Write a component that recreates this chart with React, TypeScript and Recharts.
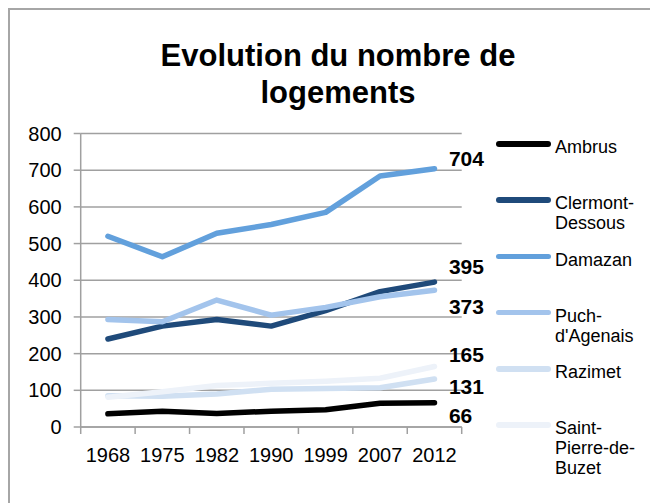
import React from "react";
import { LineChart, Line, XAxis, YAxis, CartesianGrid } from "recharts";

const years = ["1968", "1975", "1982", "1990", "1999", "2007", "2012"];
const yTicks = [0, 100, 200, 300, 400, 500, 600, 700, 800];

const ambrus = [36, 43, 37, 43, 47, 65, 66];
const clermont = [240, 275, 293, 275, 317, 369, 395];
const damazan = [520, 464, 528, 552, 585, 684, 704];
const puch = [293, 287, 346, 305, 326, 355, 373];
const razimet = [85, 84, 90, 103, 105, 107, 131];
const saintPierre = [81, 96, 113, 119, 125, 133, 165];

const seriesNames = ["Ambrus", "Clermont-Dessous", "Damazan", "Puch-d'Agenais", "Razimet", "Saint-Pierre-de-Buzet"];
const legendLabels = [["Ambrus"], ["Clermont-", "Dessous"], ["Damazan"], ["Puch-", "d'Agenais"], ["Razimet"], ["Saint-", "Pierre-de-", "Buzet"]];

// styling, kept apart from the values
const COLORS = ["#000000", "#1f4a7a", "#62a0dc", "#a3c4ec", "#d0e0f2", "#edf2f9"];
const LABEL_DY = [20, -8, -3, 24, 15, -4];
const GRID = "#a0a0a0";
const FONT = "'Liberation Sans', Arial, sans-serif";

const W = 650;
const H = 495;
const M = { top: 125.5, right: 196.3, bottom: 36, left: 0 };
const Y_W = 72.7;
const HALF = (W - Y_W - M.right) / years.length / 2;

const allSeries = [ambrus, clermont, damazan, puch, razimet, saintPierre];
const data = years.map((year, i) => {
  const row: Record<string, string | number> = { year };
  seriesNames.forEach((n, s) => (row[n] = allSeries[s][i]));
  return row;
});

const XTick = (props: any) => {
  const { x, y, payload, index } = props;
  const axisY = y;
  return (
    <g>
      <line x1={x - HALF} x2={x - HALF} y1={axisY} y2={axisY + 7} stroke={GRID} strokeWidth={1.5} />
      {index === years.length - 1 && (
        <line x1={x + HALF} x2={x + HALF} y1={axisY} y2={axisY + 7} stroke={GRID} strokeWidth={1.5} />
      )}
      <text x={x} y={axisY + 34.5} textAnchor="middle" fontSize={20} fill="#000" fontFamily={FONT}>
        {payload.value}
      </text>
    </g>
  );
};

const endLabel = (dy: number) => (p: any) => {
  if (p.index !== years.length - 1) return null;
  return (
    <text x={p.x + 14.4} y={p.y + dy} fontSize={21} fontWeight="bold" fill="#000" fontFamily={FONT}>
      {p.value}
    </text>
  );
};

export default function App() {
  return (
    <div style={{ position: "relative", width: W, height: H, fontFamily: FONT }}>
      <div
        style={{
          position: "absolute", left: 0, top: 0, width: W, height: H, boxSizing: "border-box",
          borderTop: "2px solid #a6a6a6", borderLeft: "2px solid #a6a6a6",
        }}
      />
      <div
        style={{
          position: "absolute", left: 30, top: 28.7, width: 600, textAlign: "center",
          fontSize: 31, fontWeight: "bold", lineHeight: "37px", color: "#000",
        }}
      >
        Evolution du nombre de
        <br />
        logements
      </div>
      <div style={{ position: "absolute", left: 0, top: 0 }}>
        <LineChart width={W} height={H} data={data} margin={M}>
          <CartesianGrid vertical={false} stroke={GRID} strokeWidth={1.5} />
          <XAxis
            dataKey="year"
            padding={{ left: HALF, right: HALF }}
            stroke={GRID}
            strokeWidth={1.5}
            tickLine={false}
            tickSize={0}
            tickMargin={0}
            height={40}
            interval={0}
            tick={<XTick />}
          />
          <YAxis
            domain={[0, 800]}
            ticks={yTicks}
            width={Y_W}
            stroke={GRID}
            strokeWidth={1.5}
            tickSize={7}
            tickMargin={12}
            interval={0}
            tick={{ fill: "#000", fontSize: 20, fontFamily: FONT }}
          />
          {seriesNames.map((n, s) => (
            <Line
              key={n}
              dataKey={n}
              type="linear"
              stroke={COLORS[s]}
              strokeWidth={5.5}
              strokeLinecap="round"
              strokeLinejoin="round"
              dot={false}
              activeDot={false}
              isAnimationActive={false}
              label={endLabel(LABEL_DY[s])}
            />
          ))}
        </LineChart>
      </div>
      {legendLabels.map((lines, s) => {
        const cy = 136 + s * 56.2;
        return (
          <div key={s}>
            <div
              style={{
                position: "absolute", left: 488, top: cy - 2.75, width: 55, height: 5.5,
                borderRadius: 3, background: COLORS[s],
              }}
            />
            <div
              style={{
                position: "absolute", left: 547, top: cy - 6.8, fontSize: 18, lineHeight: "20px",
                color: "#000", whiteSpace: "nowrap",
              }}
            >
              {lines.map((l, i) => (
                <div key={i}>{l}</div>
              ))}
            </div>
          </div>
        );
      })}
    </div>
  );
}
